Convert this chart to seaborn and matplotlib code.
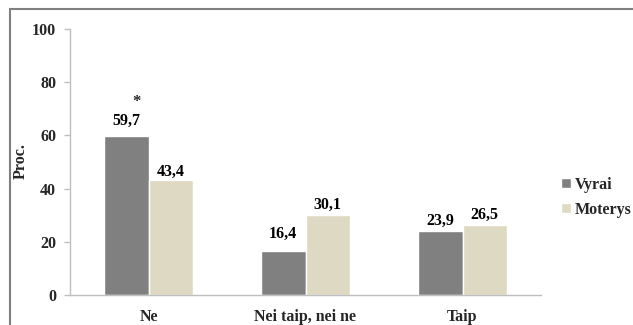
import matplotlib
matplotlib.use("Agg")
import matplotlib.pyplot as plt
import seaborn as sns
import pandas as pd
from matplotlib.patches import Rectangle

categories = ["Ne", "Nei taip, nei ne", "Taip"]
vyrai = [59.7, 16.4, 23.9]
moterys = [43.4, 30.1, 26.5]
series_names = ["Vyrai", "Moterys"]
value_labels = [["59,7", "16,4", "23,9"], ["43,4", "30,1", "26,5"]]
y_ticks = [0, 20, 40, 60, 80, 100]

df = pd.DataFrame({
    "cat": categories * 2,
    "val": vyrai + moterys,
    "sex": [series_names[0]] * 3 + [series_names[1]] * 3,
})

sns.set_theme(style="white")
plt.rcParams["font.family"] = ["Liberation Serif", "DejaVu Serif"]
plt.rcParams["font.weight"] = "bold"

fig = plt.figure(figsize=(6.33, 3.25), dpi=100)
ax = fig.add_axes([70 / 633, 1 - 295 / 325, 471 / 633, 266 / 325])

palette = {"Vyrai": "#808080", "Moterys": "#DDD9C3"}
sns.barplot(data=df, x="cat", y="val", hue="sex", palette=palette,
            width=0.567, saturation=1, ax=ax, legend=True)

ax.set_ylim(0, 100)
ax.set_xlim(-0.5, 2.5)
ax.set_yticks(y_ticks)
ax.set_yticklabels([str(t) for t in y_ticks], fontsize=11.5, fontweight="bold")
ax.set_xticks(range(len(categories)))
ax.set_xticklabels(categories, fontsize=11.5, fontweight="bold")
ax.tick_params(axis="x", which="major", length=0, pad=10)
ax.set_xticks([-0.5, 0.5, 1.5, 2.5], minor=True)
ax.tick_params(axis="x", which="minor", length=5, color="#BFBFBF", width=1)
ax.tick_params(axis="y", length=4, color="#BFBFBF", width=1, pad=6, left=True)
ax.set_xlabel("")
ax.set_ylabel("")
fig.text(21 / 633, 1 - 161 / 325, "Proc.", rotation=90, ha="center", va="center",
         fontsize=11.5, fontweight="bold")

for side in ["top", "right"]:
    ax.spines[side].set_visible(False)
for side in ["left", "bottom"]:
    ax.spines[side].set_color("#BFBFBF")
    ax.spines[side].set_linewidth(1)

# value labels above bars, with per-label lift in points
lift = [[5, 7, 2], [0, 1.5, 1.5]]
for si, cont in enumerate(ax.containers):
    for ci, bar in enumerate(cont):
        h = bar.get_height()
        x = bar.get_x() + bar.get_width() / 2
        ax.annotate(value_labels[si][ci], (x, h), xytext=(0, lift[si][ci]),
                    textcoords="offset points", ha="center", va="bottom",
                    fontsize=11.5, fontweight="bold", color="black")

# significance mark over the first group
b0 = ax.containers[0][0]
ax.annotate("*", (b0.get_x() + b0.get_width() * 0.72, vyrai[0]), xytext=(0, 19),
            textcoords="offset points", ha="center", va="bottom",
            fontsize=12, fontweight="bold")

leg = ax.legend(loc="upper left", bbox_to_anchor=(561 / 633, 1 - 177 / 325),
                bbox_transform=fig.transFigure, frameon=False,
                prop={"family": "Liberation Serif", "weight": "bold", "size": 11.5},
                handlelength=0.6, handleheight=0.6, handletextpad=0.25,
                labelspacing=0.55, borderaxespad=0, borderpad=0)

# outer frame of the chart area
fig.patches.append(Rectangle((10 / 633, -0.1), 1.1, 1 - 9 / 325 + 0.1,
                             transform=fig.transFigure, fill=False,
                             edgecolor="#808080", linewidth=1.5))

fig.savefig("out.png", dpi=100)
